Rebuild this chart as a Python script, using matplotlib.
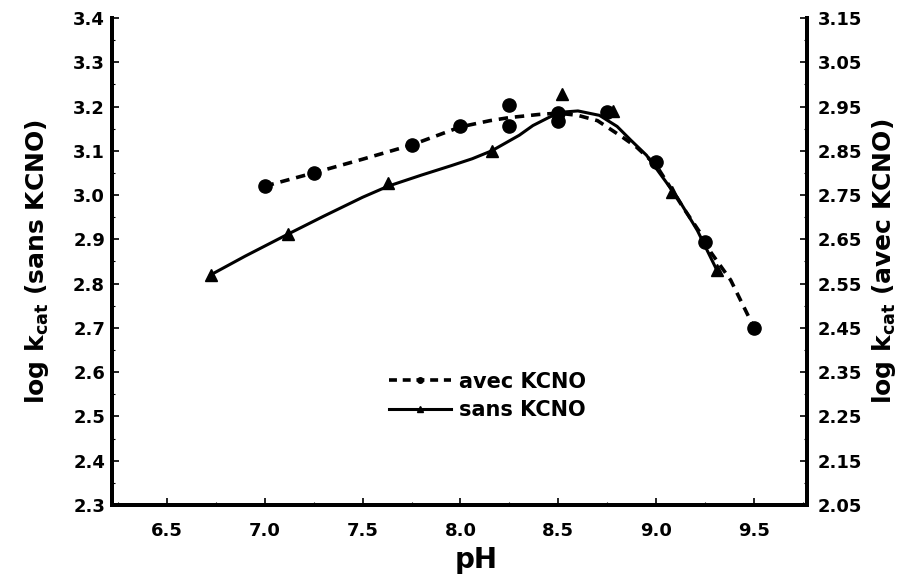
import matplotlib.pyplot as plt
from matplotlib.lines import Line2D
from matplotlib.ticker import MultipleLocator, FixedLocator

plt.rcParams['font.family'] = ['DejaVu Sans']
plt.rcParams['font.weight'] = 'bold'
plt.rcParams['mathtext.default'] = 'bf'

# avec KCNO (axe de droite) : points mesurés
ph_avec = [7.0, 7.25, 7.75, 8.0, 8.25, 8.25, 8.5, 8.5, 8.75, 9.0, 9.25, 9.5]
k_avec = [2.77, 2.80, 2.863, 2.906, 2.953, 2.906, 2.935, 2.917, 2.937, 2.824, 2.644, 2.45]
# courbe en pointillé (avec KCNO)
ph_avec_fit = [7.0, 7.25, 7.5, 7.75, 8.0, 8.15, 8.25, 8.4, 8.5, 8.6, 8.7, 8.83, 8.9,
               9.0, 9.14, 9.25, 9.28, 9.38, 9.5]
k_avec_fit = [2.77, 2.80, 2.831, 2.863, 2.904, 2.918, 2.925, 2.932, 2.935, 2.93, 2.918,
              2.88, 2.858, 2.817, 2.72, 2.648, 2.62, 2.558, 2.45]

# sans KCNO (axe de gauche)
ph_sans = [6.725, 7.12, 7.63, 8.16, 8.52, 8.78, 9.08, 9.31]
k_sans = [2.82, 2.912, 3.027, 3.10, 3.228, 3.19, 3.007, 2.83]
ph_sans_fit = [6.725, 6.9, 7.12, 7.3, 7.5, 7.63, 7.8, 7.95, 8.06, 8.16, 8.3, 8.37, 8.45,
               8.51, 8.6, 8.71, 8.8, 8.87, 8.95, 9.0, 9.11, 9.21, 9.31]
k_sans_fit = [2.82, 2.862, 2.912, 2.952, 2.995, 3.02, 3.045, 3.066, 3.082, 3.10, 3.135,
              3.157, 3.175, 3.187, 3.19, 3.18, 3.155, 3.124, 3.09, 3.06, 2.993, 2.92, 2.83]

fig = plt.figure(figsize=(9.09, 5.79), dpi=100)
ax = fig.add_axes([0.1232, 0.1278, 0.7646, 0.8412])
ax2 = ax.twinx()

ax.plot(ph_sans_fit, k_sans_fit, color='black', lw=2.2, solid_joinstyle='round')
ax.plot(ph_sans, k_sans, '^', color='black', ms=9, ls='none')
ax2.plot(ph_avec_fit, k_avec_fit, color='black', lw=2.6, ls=(0, (2.6, 1.9)))
ax2.plot(ph_avec, k_avec, 'o', color='black', ms=9.5, ls='none')

ax.set_xlim(6.22, 9.77)
ax.set_ylim(2.3, 3.4)
ax2.set_ylim(2.05, 3.15)
ax.xaxis.set_major_locator(MultipleLocator(0.5))
ax.xaxis.set_minor_locator(MultipleLocator(0.25))
ax.yaxis.set_major_locator(MultipleLocator(0.1))
ax.yaxis.set_minor_locator(MultipleLocator(0.05))
ax2.yaxis.set_major_locator(FixedLocator([2.05 + 0.1 * i for i in range(12)]))
ax2.yaxis.set_minor_locator(FixedLocator([2.1 + 0.1 * i for i in range(11)]))
ax.xaxis.set_major_formatter('{x:.1f}')
ax.yaxis.set_major_formatter('{x:.1f}')
ax2.yaxis.set_major_formatter('{x:.2f}')

for a in (ax, ax2):
    a.spines['top'].set_visible(False)
    for s in ('left', 'right', 'bottom'):
        a.spines[s].set_linewidth(2.8)
    a.tick_params(which='major', direction='in', length=5, width=1.2, labelsize=13)
    a.tick_params(which='minor', direction='in', length=2.5, width=0.8)
ax.tick_params(axis='x', pad=12)
ax.tick_params(axis='y', pad=5)
ax2.tick_params(axis='y', pad=8)

ax.set_xlabel('pH', fontsize=20, fontweight='bold', labelpad=4)
ax.xaxis.set_label_coords(0.524, -0.085)
ax.set_ylabel('log k$_{cat}$ (sans KCNO)', fontsize=18, fontweight='bold', labelpad=16)
ax2.set_ylabel('log k$_{cat}$ (avec KCNO)', fontsize=18, fontweight='bold', labelpad=5)

handles = [
    Line2D([], [], color='black', lw=2.6, ls=(0, (2.2, 1.6)), marker='o', ms=4),
    Line2D([], [], color='black', lw=2.2, marker='^', ms=4),
]
ax.legend(handles, ['avec KCNO', 'sans KCNO'], loc='center left',
          bbox_to_anchor=(0.383, 0.224), frameon=False, fontsize=15, borderpad=0,
          handlelength=3.0, handletextpad=0.4, labelspacing=0.4)

fig.savefig('out.png', dpi=100)
